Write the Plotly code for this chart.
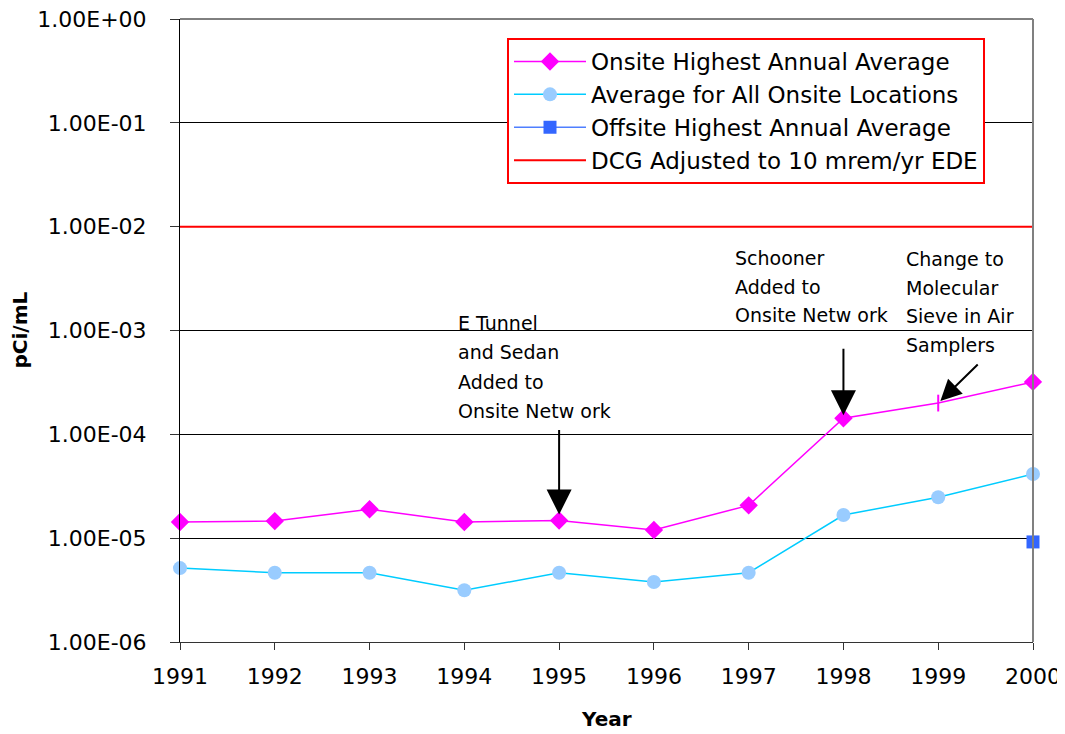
import math
import plotly.graph_objects as go

# ---------------- data ----------------
years = [1991, 1992, 1993, 1994, 1995, 1996, 1997, 1998, 1999, 2000]
onsite_highest = [1.43e-5, 1.46e-5, 1.90e-5, 1.43e-5, 1.48e-5, 1.20e-5, 2.07e-5, 1.43e-4, 2.00e-4, 3.20e-4]
onsite_average = [5.15e-6, 4.65e-6, 4.65e-6, 3.15e-6, 4.65e-6, 3.78e-6, 4.65e-6, 1.67e-5, 2.48e-5, 4.15e-5]
offsite_years = [2000]
offsite_highest = [9.2e-6]
dcg_years = [1991, 2000]
dcg_values = [1.0e-2, 1.0e-2]

series_names = [
    "Onsite Highest Annual Average",
    "Average for All Onsite Locations",
    "Offsite Highest Annual Average",
    "DCG Adjusted to 10 mrem/yr EDE",
]
ytick_vals = [1e-6, 1e-5, 1e-4, 1e-3, 1e-2, 1e-1, 1e0]
ytick_text = ["1.00E-06", "1.00E-05", "1.00E-04", "1.00E-03", "1.00E-02", "1.00E-01", "1.00E+00"]

# annotations: (text lines, year the arrow points to)
notes = [
    (["E Tunnel", "and Sedan", "Added to", "Onsite Netw ork"], 1995),
    (["Schooner", "Added to", "Onsite Netw ork"], 1998),
    (["Change to", "Molecular", "Sieve in Air", "Samplers"], 1999),
]

FONT = "DejaVu Sans"
# the page body adds an 8px offset; the figure is sized to fit the window
BODY = 8
W, H = 1065 - BODY, 734 - BODY
# plot area in screen pixels
SX0, SX1, SY0, SY1 = 180, 1033, 19, 642
ML, MT = SX0 - BODY, SY0 - BODY
MR, MB = W - (SX1 - BODY), H - (SY1 - BODY)
PW, PH = SX1 - SX0, SY1 - SY0


def px_x(px):
    return (px - SX0) / PW


def px_y(py):
    return 1 - (py - SY0) / PH


fig = go.Figure()

symbols = ["line-ns" if y == 1999 else "diamond" for y in years]
fig.add_trace(go.Scatter(
    x=years, y=onsite_highest, name=series_names[0], mode="lines+markers",
    line=dict(color="#FF00FF", width=1.5),
    marker=dict(symbol=symbols, size=12, color="#FF00FF",
                line=dict(color="#FF00FF", width=2)),
    cliponaxis=False,
))
fig.add_trace(go.Scatter(
    x=years, y=onsite_average, name=series_names[1], mode="lines+markers",
    line=dict(color="#00CCFF", width=1.5),
    marker=dict(symbol="circle", size=14, color="#99CCFF", line=dict(width=0)),
    cliponaxis=False,
))
fig.add_trace(go.Scatter(
    x=offsite_years, y=offsite_highest, name=series_names[2], mode="lines+markers",
    line=dict(color="#4F7FFF", width=1.5),
    marker=dict(symbol="square", size=13, color="#3366FF", line=dict(width=0)),
    cliponaxis=False,
))
fig.add_trace(go.Scatter(
    x=dcg_years, y=dcg_values, name=series_names[3], mode="lines",
    line=dict(color="#FF0000", width=2),
    cliponaxis=False,
))

# text blocks (left x px, first-line center y px, line step px)
block_pos = [(456, 323, 29.3), (733, 258, 28.5), (904, 259, 28.7)]
for (lines, yr), (lx, ly, step) in zip(notes, block_pos):
    for i, t in enumerate(lines):
        fig.add_annotation(
            x=px_x(lx), y=px_y(ly + i * step), xref="paper", yref="paper",
            text=t, showarrow=False, xanchor="left", yanchor="middle",
            font=dict(family=FONT, size=19, color="black"),
        )

# arrows
arrow_cfg = [(0, -92, 6, 2.5), (0, -71, 3, 2.5), (41, -40, 3, 2.1)]
for (lines, yr), (ax, ay, so, sz) in zip(notes, arrow_cfg):
    v = onsite_highest[years.index(yr)]
    fig.add_annotation(
        x=yr, y=math.log10(v), xref="x", yref="y",
        ax=ax, ay=ay, text="", showarrow=True,
        arrowhead=2, arrowsize=sz, arrowwidth=2, arrowcolor="black",
        standoff=so,
    )

# axis titles
fig.add_annotation(x=px_x(19), y=0.5, xref="paper", yref="paper", text="<b>pCi/mL</b>",
                   textangle=-90, showarrow=False, xanchor="center", yanchor="middle",
                   font=dict(family=FONT, size=20, color="black"))
fig.add_annotation(x=0.5, y=px_y(719), xref="paper", yref="paper", text="<b>Year</b>",
                   showarrow=False, xanchor="center", yanchor="middle",
                   font=dict(family=FONT, size=20, color="black"))

# frame lines
fig.add_shape(type="line", xref="paper", yref="paper", x0=0, x1=1, y0=1, y1=1,
              line=dict(color="black", width=1))
fig.add_shape(type="line", xref="paper", yref="paper", x0=1, x1=1, y0=0, y1=1,
              line=dict(color="#808080", width=2))

fig.update_layout(
    width=W, height=H, autosize=False,
    margin=dict(l=ML, r=MR, t=MT, b=MB, pad=0, autoexpand=False),
    paper_bgcolor="white", plot_bgcolor="white",
    font=dict(family=FONT, size=22, color="black"),
    showlegend=True,
    legend=dict(
        x=px_x(507), y=px_y(38), xanchor="left", yanchor="top",
        bgcolor="white", bordercolor="#FF0000", borderwidth=2,
        font=dict(family=FONT, size=23, color="black"),
        tracegroupgap=0, itemwidth=72, traceorder="normal",
    ),
    xaxis=dict(
        range=[1991, 2000], tickvals=years, ticktext=[str(y) for y in years],
        automargin=False, ticklabeloverflow="allow",
        showgrid=False, zeroline=False, showline=True, linecolor="#333333", linewidth=1,
        ticks="outside", ticklen=7, tickcolor="#333333", tickwidth=1,
        ticklabelstandoff=8,
        tickfont=dict(family=FONT, size=22, color="black"),
    ),
    yaxis=dict(
        type="log", range=[-6, 0], tickvals=ytick_vals, ticktext=ytick_text,
        automargin=False, ticklabeloverflow="allow",
        showgrid=True, gridcolor="black", gridwidth=1, zeroline=False,
        showline=True, linecolor="black", linewidth=1,
        ticks="outside", ticklen=9, tickcolor="#333333", tickwidth=1,
        ticklabelstandoff=19,
        tickfont=dict(family=FONT, size=22, color="black"),
    ),
)

fig.write_html("out.html")
